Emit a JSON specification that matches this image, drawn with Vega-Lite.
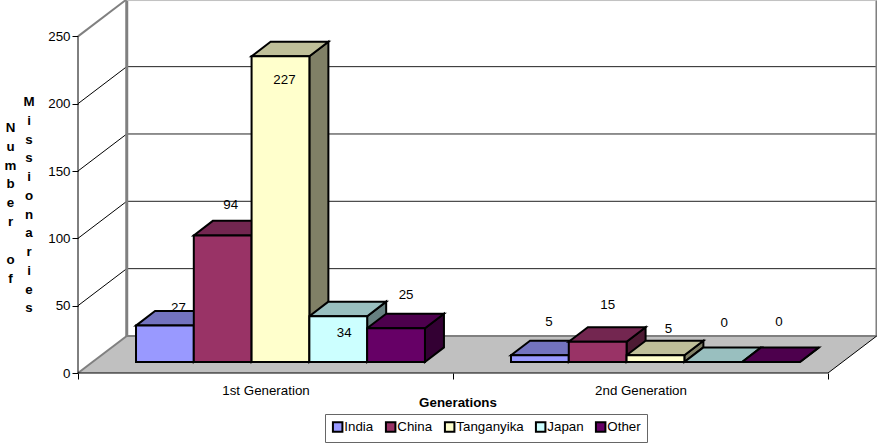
{
  "$schema": "https://vega.github.io/schema/vega-lite/v6.json",
  "width": 799,
  "height": 373,
  "padding": {"left": 78, "right": 0, "top": 0, "bottom": 71},
  "autosize": {"type": "none"},
  "background": "white",
  "resolve": {"axis": {"x": "independent", "y": "independent"}},
  "config": {
    "font": "Liberation Sans",
    "view": {"stroke": null},
    "text": {"font": "Liberation Sans", "fontSize": 13.33, "color": "black"}
  },
  "datasets": {
    "missionaries": [
      {"generation": "1st Generation", "series": "India", "value": 27},
      {"generation": "1st Generation", "series": "China", "value": 94},
      {"generation": "1st Generation", "series": "Tanganyika", "value": 227},
      {"generation": "1st Generation", "series": "Japan", "value": 34},
      {"generation": "1st Generation", "series": "Other", "value": 25},
      {"generation": "2nd Generation", "series": "India", "value": 5},
      {"generation": "2nd Generation", "series": "China", "value": 15},
      {"generation": "2nd Generation", "series": "Tanganyika", "value": 5},
      {"generation": "2nd Generation", "series": "Japan", "value": 0},
      {"generation": "2nd Generation", "series": "Other", "value": 0}
    ],
    "gridTicks": [{"tick": 50}, {"tick": 100}, {"tick": 150}, {"tick": 200}],
    "wallEdges": [{"tick": 0}, {"tick": 250}],
    "floorEdges": [{"depth": 0}, {"depth": 1}],
    "yTitles": [
      {"label": "Number", "column": -0.18, "start": 187},
      {"label": "of", "column": -0.18, "start": 89.1},
      {"label": "Missionaries", "column": -0.1307, "start": 206.4}
    ]
  },
  "layer": [
    {
      "description": "Axes of the front plane",
      "data": {"name": "floorEdges"},
      "mark": {"type": "point", "opacity": 0},
      "encoding": {
        "x": {
          "datum": 0,
          "type": "quantitative",
          "scale": {"domain": [0, 2.1307], "nice": false, "zero": false},
          "axis": {
            "title": "Generations",
            "titleFontSize": 13.33,
            "titleFontWeight": "bold",
            "titleColor": "black",
            "titleX": 379.5,
            "titleY": 29,
            "titleBaseline": "middle",
            "values": [0, 0.5, 1, 1.5, 2],
            "labelExpr": "datum.value === 0.5 ? '1st Generation' : datum.value === 1.5 ? '2nd Generation' : ''",
            "labelFontSize": 13.33,
            "labelColor": "black",
            "labelPadding": 4,
            "labelOverlap": false,
            "labelFlush": false,
            "labelBound": false,
            "domain": false,
            "grid": false,
            "tickColor": "black",
            "tickSize": 6,
            "tickOpacity": {"condition": {"test": "datum.value % 1 !== 0", "value": 0}, "value": 1}
          }
        },
        "y": {
          "datum": 0,
          "type": "quantitative",
          "scale": {"domain": [0, 277], "nice": false, "zero": false},
          "axis": {
            "title": null,
            "values": [0, 50, 100, 150, 200, 250],
            "labelFontSize": 13.33,
            "labelColor": "black",
            "labelPadding": 2,
            "domain": false,
            "grid": false,
            "tickColor": "black",
            "tickSize": 6
          }
        }
      }
    },
    {
      "description": "Floor of the box",
      "data": {"name": "floorEdges"},
      "transform": [
        {"calculate": "datum.depth * 0.13", "as": "xa"},
        {"calculate": "2 + datum.depth * 0.13", "as": "xb"},
        {"calculate": "datum.depth * 27.5", "as": "yy"}
      ],
      "mark": {"type": "area", "orient": "horizontal", "fill": "#C0C0C0"},
      "encoding": {
        "x": {"field": "xa", "type": "quantitative", "axis": null},
        "x2": {"field": "xb"},
        "y": {"field": "yy", "type": "quantitative", "axis": null}
      }
    },
    {
      "description": "Gridlines on the back wall",
      "data": {"name": "gridTicks"},
      "transform": [
        {"calculate": "0.13", "as": "xa"},
        {"calculate": "2.13", "as": "xb"},
        {"calculate": "datum.tick + 27.5", "as": "yy"}
      ],
      "mark": {"type": "rule", "color": "#222222", "strokeWidth": 1},
      "encoding": {
        "x": {"field": "xa", "type": "quantitative", "axis": null},
        "x2": {"field": "xb"},
        "y": {"field": "yy", "type": "quantitative", "axis": null}
      }
    },
    {
      "description": "Gridlines on the side wall",
      "data": {"name": "gridTicks"},
      "transform": [
        {"calculate": "0", "as": "xa"},
        {"calculate": "0.13", "as": "xb"},
        {"calculate": "datum.tick + 27.5", "as": "yy"}
      ],
      "mark": {"type": "rule", "color": "black", "strokeWidth": 1},
      "encoding": {
        "x": {"field": "xa", "type": "quantitative", "axis": null},
        "x2": {"field": "xb"},
        "y": {"field": "tick", "type": "quantitative", "axis": null},
        "y2": {"field": "yy"}
      }
    },
    {
      "description": "Grey slanted edges at the bottom and top of the side wall",
      "data": {"name": "wallEdges"},
      "transform": [
        {"calculate": "0", "as": "xa"},
        {"calculate": "0.13", "as": "xb"},
        {"calculate": "datum.tick + 27.5", "as": "yy"}
      ],
      "mark": {"type": "rule", "color": "#808080", "strokeWidth": 2},
      "encoding": {
        "x": {"field": "xa", "type": "quantitative", "axis": null},
        "x2": {"field": "xb"},
        "y": {"field": "tick", "type": "quantitative", "axis": null},
        "y2": {"field": "yy"}
      }
    },
    {
      "description": "Back edge of the floor",
      "data": {"name": "floorEdges"},
      "transform": [
        {"filter": "datum.depth === 1"},
        {"calculate": "0.13", "as": "xa"},
        {"calculate": "2.13", "as": "xb"},
        {"calculate": "27.5", "as": "yy"}
      ],
      "mark": {"type": "rule", "color": "#808080", "strokeWidth": 2},
      "encoding": {
        "x": {"field": "xa", "type": "quantitative", "axis": null},
        "x2": {"field": "xb"},
        "y": {"field": "yy", "type": "quantitative", "axis": null}
      }
    },
    {
      "description": "Upright grey edge where the two walls meet",
      "data": {"name": "floorEdges"},
      "transform": [
        {"filter": "datum.depth === 1"},
        {"calculate": "0.13", "as": "xa"},
        {"calculate": "27.5", "as": "ya"},
        {"calculate": "277", "as": "yb"}
      ],
      "mark": {"type": "rule", "color": "#808080", "strokeWidth": 3},
      "encoding": {
        "x": {"field": "xa", "type": "quantitative", "axis": null},
        "y": {"field": "ya", "type": "quantitative", "axis": null},
        "y2": {"field": "yb"}
      }
    },
    {
      "description": "Upright grey edge at the far right of the back wall",
      "data": {"name": "floorEdges"},
      "transform": [
        {"filter": "datum.depth === 1"},
        {"calculate": "2.1293", "as": "xa"},
        {"calculate": "27.5", "as": "ya"},
        {"calculate": "277", "as": "yb"}
      ],
      "mark": {"type": "rule", "color": "#808080", "strokeWidth": 2},
      "encoding": {
        "x": {"field": "xa", "type": "quantitative", "axis": null},
        "y": {"field": "ya", "type": "quantitative", "axis": null},
        "y2": {"field": "yb"}
      }
    },
    {
      "description": "Light top edge of the back wall",
      "data": {"name": "floorEdges"},
      "transform": [
        {"filter": "datum.depth === 1"},
        {"calculate": "0.13", "as": "xa"},
        {"calculate": "2.13", "as": "xb"},
        {"calculate": "276.6", "as": "yy"}
      ],
      "mark": {"type": "rule", "color": "#C0C0C0", "strokeWidth": 1},
      "encoding": {
        "x": {"field": "xa", "type": "quantitative", "axis": null},
        "x2": {"field": "xb"},
        "y": {"field": "yy", "type": "quantitative", "axis": null}
      }
    },
    {
      "description": "Black front edges of the box: upright axis line, floor front and right slant",
      "data": {"name": "floorEdges"},
      "transform": [
        {"filter": "datum.depth === 0"},
        {"calculate": "0", "as": "xa"},
        {"calculate": "250", "as": "yb"},
        {"calculate": "0", "as": "ya"}
      ],
      "mark": {"type": "rule", "color": "black", "strokeWidth": 1},
      "encoding": {
        "x": {"field": "xa", "type": "quantitative", "axis": null},
        "y": {"field": "ya", "type": "quantitative", "axis": null},
        "y2": {"field": "yb"}
      }
    },
    {
      "data": {"name": "floorEdges"},
      "transform": [
        {"filter": "datum.depth === 0"},
        {"calculate": "0", "as": "xa"},
        {"calculate": "2", "as": "xb"},
        {"calculate": "0", "as": "yy"}
      ],
      "mark": {"type": "rule", "color": "black", "strokeWidth": 1},
      "encoding": {
        "x": {"field": "xa", "type": "quantitative", "axis": null},
        "x2": {"field": "xb"},
        "y": {"field": "yy", "type": "quantitative", "axis": null}
      }
    },
    {
      "data": {"name": "floorEdges"},
      "transform": [
        {"filter": "datum.depth === 0"},
        {"calculate": "2", "as": "xa"},
        {"calculate": "2.13", "as": "xb"},
        {"calculate": "0", "as": "ya"},
        {"calculate": "27.5", "as": "yb"}
      ],
      "mark": {"type": "rule", "color": "black", "strokeWidth": 1},
      "encoding": {
        "x": {"field": "xa", "type": "quantitative", "axis": null},
        "x2": {"field": "xb"},
        "y": {"field": "ya", "type": "quantitative", "axis": null},
        "y2": {"field": "yb"}
      }
    },
    {
      "description": "Stacked letters of the vertical axis title",
      "data": {"name": "yTitles"},
      "transform": [
        {"calculate": "join(split(datum.label, ''), '|')", "as": "stacked"}
      ],
      "mark": {
        "type": "text",
        "fontWeight": "bold",
        "fontSize": 13.33,
        "align": "center",
        "baseline": "top",
        "lineBreak": "|",
        "lineHeight": 18.75
      },
      "encoding": {
        "x": {"field": "column", "type": "quantitative", "axis": null},
        "y": {"field": "start", "type": "quantitative", "axis": null},
        "text": {"field": "stacked", "type": "nominal"}
      }
    },
    {
      "description": "Bars: label tucked behind the India top, then side, top and front faces, then the other labels",
      "data": {"name": "missionaries"},
      "transform": [
        {"calculate": "indexof(['1st Generation', '2nd Generation'], datum.generation)", "as": "gi"},
        {"calculate": "indexof(['India', 'China', 'Tanganyika', 'Japan', 'Other'], datum.series)", "as": "si"},
        {"calculate": "datum.gi + 0.1547 + datum.si * 0.1541", "as": "x0"},
        {"calculate": "datum.x0 + 0.1541", "as": "x1"},
        {"calculate": "8.2", "as": "y0"},
        {"calculate": "8.2 + datum.value", "as": "y1"},
        {"calculate": "datum.gi * 5 + datum.si", "as": "row"},
        {"calculate": "(datum.x0 + datum.x1) / 2 + [13.5, 8, 4, 6, 10, 9, 10, 13, 11, 8][datum.row] / 375", "as": "lx"},
        {"calculate": "datum.y1 + [13.1, 22.6, -17.6, -12.5, 24.7, 24.7, 27.3, 19.5, 29, 29.7][datum.row]", "as": "ly"}
      ],
      "resolve": {"scale": {"fill": "independent"}},
      "layer": [
        {
          "transform": [{"filter": "datum.row === 0"}],
          "mark": {"type": "text", "fontSize": 13.33, "baseline": "middle", "align": "center"},
          "encoding": {
            "x": {"field": "lx", "type": "quantitative", "axis": null},
            "y": {"field": "ly", "type": "quantitative", "axis": null},
            "text": {"field": "value", "type": "quantitative"}
          }
        },
        {
          "transform": [
            {"calculate": "[0, 1]", "as": "d"},
            {"flatten": ["d"]},
            {"calculate": "datum.x1 + datum.d * 0.0507", "as": "sx"},
            {"calculate": "datum.y0 + datum.d * 10.8", "as": "sa"},
            {"calculate": "datum.y1 + datum.d * 10.8", "as": "sb"}
          ],
          "mark": {"type": "area", "orient": "vertical", "stroke": "black", "strokeWidth": 2, "strokeJoin": "miter"},
          "encoding": {
            "x": {"field": "sx", "type": "quantitative", "axis": null},
            "y": {"field": "sa", "type": "quantitative", "axis": null},
            "y2": {"field": "sb"},
            "detail": {"field": "generation"},
            "fill": {
              "field": "series",
              "type": "nominal",
              "legend": null,
              "scale": {
                "domain": ["India", "China", "Tanganyika", "Japan", "Other"],
                "range": ["#4D4D80", "#4D1A33", "#808066", "#668080", "#330033"]
              }
            }
          }
        },
        {
          "transform": [
            {"calculate": "[0, 1]", "as": "d"},
            {"flatten": ["d"]},
            {"calculate": "datum.x0 + datum.d * 0.0507", "as": "ta"},
            {"calculate": "datum.x1 + datum.d * 0.0507", "as": "tb"},
            {"calculate": "datum.y1 + datum.d * 10.8", "as": "ty"}
          ],
          "mark": {"type": "area", "orient": "horizontal", "stroke": "black", "strokeWidth": 2, "strokeJoin": "miter"},
          "encoding": {
            "x": {"field": "ta", "type": "quantitative", "axis": null},
            "x2": {"field": "tb"},
            "y": {"field": "ty", "type": "quantitative", "axis": null},
            "detail": {"field": "generation"},
            "fill": {
              "field": "series",
              "type": "nominal",
              "legend": null,
              "scale": {
                "domain": ["India", "China", "Tanganyika", "Japan", "Other"],
                "range": ["#7373BF", "#732650", "#BFBF99", "#99BFBF", "#4D004D"]
              }
            }
          }
        },
        {
          "mark": {"type": "rect", "stroke": "black", "strokeWidth": 2},
          "encoding": {
            "x": {"field": "x0", "type": "quantitative", "axis": null},
            "x2": {"field": "x1"},
            "y": {"field": "y0", "type": "quantitative", "axis": null},
            "y2": {"field": "y1"},
            "fill": {
              "field": "series",
              "type": "nominal",
              "scale": {
                "domain": ["India", "China", "Tanganyika", "Japan", "Other"],
                "range": ["#9999FF", "#993366", "#FFFFCC", "#CCFFFF", "#660066"]
              },
              "legend": {
                "title": null,
                "orient": "none",
                "legendX": 247,
                "legendY": 414,
                "direction": "horizontal",
                "columns": 5,
                "columnPadding": 7,
                "padding": 6,
                "strokeColor": "#666666",
                "symbolType": "square",
                "symbolSize": 90,
                "symbolStrokeColor": "black",
                "symbolStrokeWidth": 2,
                "labelFontSize": 13.33,
                "labelColor": "black",
                "labelOffset": 0
              }
            }
          }
        },
        {
          "transform": [{"filter": "datum.row !== 0"}],
          "mark": {"type": "text", "fontSize": 13.33, "baseline": "middle", "align": "center"},
          "encoding": {
            "x": {"field": "lx", "type": "quantitative", "axis": null},
            "y": {"field": "ly", "type": "quantitative", "axis": null},
            "text": {"field": "value", "type": "quantitative"}
          }
        }
      ]
    }
  ]
}
